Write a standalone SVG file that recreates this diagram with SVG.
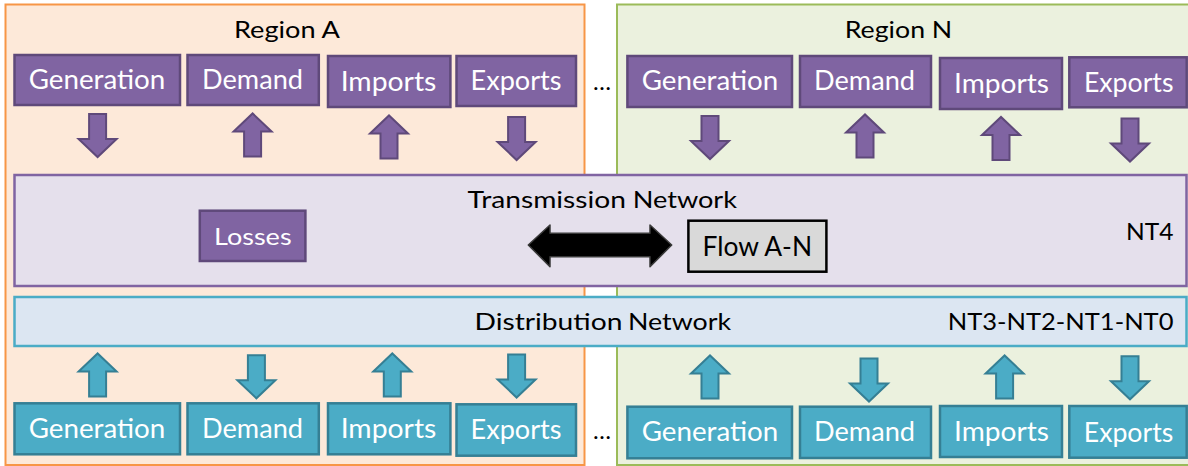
<svg xmlns="http://www.w3.org/2000/svg" xmlns:xlink="http://www.w3.org/1999/xlink" width="1188" height="466" viewBox="0 0 1188 466">
  <style>
    text { font-family: Lato, "Open Sans", "Liberation Sans", sans-serif; text-anchor: middle; }
    .title { font-size: 23px; fill: #000; }
    .lbl { font-size: 27px; fill: #fff; }
    .net { font-size: 24px; fill: #000; }
    .start { text-anchor: start; }
    .pbox { fill: #8064A2; stroke: #5F497A; stroke-width: 2.5; }
    .tbox { fill: #4BACC6; stroke: #357F94; stroke-width: 2.5; }
    .parr { fill: #8064A2; stroke: #5F497A; stroke-width: 2; stroke-linejoin: miter; }
    .tarr { fill: #4BACC6; stroke: #357F94; stroke-width: 2; stroke-linejoin: miter; }
  </style>
  <defs>
    <!-- block arrows, 38 wide and 43 tall, origin at top centre -->
    <path id="dn" d="M-8.5,0 H8.5 V25 H19 L0,43 L-19,25 H-8.5 Z"/>
    <path id="up" d="M-8.5,43 H8.5 V18 H19 L0,0 L-19,18 H-8.5 Z"/>
  </defs>

  <rect width="1188" height="466" fill="#fff"/>

  <!-- regions -->
  <g id="region-a">
    <rect x="5.5" y="4.5" width="579" height="460.5" fill="#FDE9D9" stroke="#F79646" stroke-width="2"/>
    <text class="title" x="287" y="38" textLength="106" lengthAdjust="spacingAndGlyphs">Region A</text>
  </g>
  <g id="region-n">
    <rect x="617" y="4.5" width="580" height="460.5" fill="#EBF1DE" stroke="#9BBB59" stroke-width="2"/>
    <text class="title" x="898.5" y="38" textLength="107.5" lengthAdjust="spacingAndGlyphs">Region N</text>
  </g>

  <!-- networks -->
  <g id="transmission">
    <rect x="14.5" y="175" width="1172" height="111" fill="#E5E0EC" stroke="#8064A2" stroke-width="2.5"/>
    <text class="title start" y="208"><tspan x="467.6" textLength="158.4" lengthAdjust="spacingAndGlyphs">Transmission</tspan> <tspan x="632.7" textLength="104.3" lengthAdjust="spacingAndGlyphs">Network</tspan></text>
    <text class="title" x="1149.8" y="240" textLength="47.5" lengthAdjust="spacingAndGlyphs">NT4</text>
  </g>
  <g id="losses">
    <rect class="pbox" x="199.8" y="210.7" width="105.6" height="50.3"/>
    <text class="lbl" style="font-size:23px" x="252.8" y="245" textLength="77.6" lengthAdjust="spacingAndGlyphs">Losses</text>
  </g>
  <g id="flow">
    <rect x="688.4" y="220.7" width="138" height="51" fill="#D9D9D9" stroke="#000" stroke-width="2.5"/>
    <text class="net" style="font-size:26px" x="757.3" y="256" textLength="109.5" lengthAdjust="spacingAndGlyphs">Flow A-N</text>
  </g>
  <g id="distribution">
    <rect x="14.5" y="297" width="1172" height="49" fill="#DCE6F2" stroke="#4BACC6" stroke-width="2.5"/>
    <text class="net start" y="330"><tspan x="474.5" textLength="147.9" lengthAdjust="spacingAndGlyphs">Distribution</tspan> <tspan x="628" textLength="103" lengthAdjust="spacingAndGlyphs">Network</tspan></text>
    <text class="net" x="1060.6" y="330" textLength="225.8" lengthAdjust="spacingAndGlyphs">NT3-NT2-NT1-NT0</text>
  </g>

  <!-- transmission-level components -->
  <g id="a-top-generation">
    <rect class="pbox" x="14.5" y="55" width="165.5" height="50"/>
    <text class="lbl" x="97" y="89" textLength="136.6" lengthAdjust="spacingAndGlyphs">Generation</text>
  </g>
  <g id="a-top-demand">
    <rect class="pbox" x="187.5" y="55" width="131.3" height="50"/>
    <text class="lbl" x="252.5" y="88.5" textLength="101" lengthAdjust="spacingAndGlyphs">Demand</text>
  </g>
  <g id="a-top-imports">
    <rect class="pbox" x="328" y="56" width="122.4" height="51"/>
    <text class="lbl" x="388.5" y="90.5" textLength="95.7" lengthAdjust="spacingAndGlyphs">Imports</text>
  </g>
  <g id="a-top-exports">
    <rect class="pbox" x="456.5" y="56" width="119.5" height="50"/>
    <text class="lbl" x="516" y="90" textLength="91" lengthAdjust="spacingAndGlyphs">Exports</text>
  </g>
  <g id="n-top-generation">
    <rect class="pbox" x="627.4" y="56" width="164.6" height="51"/>
    <text class="lbl" x="710" y="90" textLength="136.5" lengthAdjust="spacingAndGlyphs">Generation</text>
  </g>
  <g id="n-top-demand">
    <rect class="pbox" x="800" y="56" width="131" height="51"/>
    <text class="lbl" x="864.5" y="90" textLength="101" lengthAdjust="spacingAndGlyphs">Demand</text>
  </g>
  <g id="n-top-imports">
    <rect class="pbox" x="940" y="58" width="122" height="51"/>
    <text class="lbl" x="1001.5" y="92.5" textLength="95" lengthAdjust="spacingAndGlyphs">Imports</text>
  </g>
  <g id="n-top-exports">
    <rect class="pbox" x="1069.3" y="57.3" width="117.4" height="50"/>
    <text class="lbl" x="1128.7" y="92" textLength="89.5" lengthAdjust="spacingAndGlyphs">Exports</text>
  </g>

  <!-- distribution-level components -->
  <g id="a-bot-generation">
    <rect class="tbox" x="14.5" y="403.3" width="165.5" height="51"/>
    <text class="lbl" x="97" y="438.3" textLength="136.6" lengthAdjust="spacingAndGlyphs">Generation</text>
  </g>
  <g id="a-bot-demand">
    <rect class="tbox" x="187.5" y="403.3" width="131.3" height="51"/>
    <text class="lbl" x="252.5" y="438" textLength="101" lengthAdjust="spacingAndGlyphs">Demand</text>
  </g>
  <g id="a-bot-imports">
    <rect class="tbox" x="328" y="403.3" width="122.4" height="51"/>
    <text class="lbl" x="388.5" y="438" textLength="95.7" lengthAdjust="spacingAndGlyphs">Imports</text>
  </g>
  <g id="a-bot-exports">
    <rect class="tbox" x="456.5" y="404.3" width="119.5" height="51.4"/>
    <text class="lbl" x="516" y="438.5" textLength="91" lengthAdjust="spacingAndGlyphs">Exports</text>
  </g>
  <g id="n-bot-generation">
    <rect class="tbox" x="627.4" y="406.7" width="164.6" height="51.6"/>
    <text class="lbl" x="710" y="441" textLength="136.5" lengthAdjust="spacingAndGlyphs">Generation</text>
  </g>
  <g id="n-bot-demand">
    <rect class="tbox" x="800" y="406.7" width="131" height="51.3"/>
    <text class="lbl" x="864.5" y="441" textLength="101" lengthAdjust="spacingAndGlyphs">Demand</text>
  </g>
  <g id="n-bot-imports">
    <rect class="tbox" x="940" y="406" width="122" height="51"/>
    <text class="lbl" x="1001.5" y="441" textLength="95" lengthAdjust="spacingAndGlyphs">Imports</text>
  </g>
  <g id="n-bot-exports">
    <rect class="tbox" x="1069.3" y="406" width="117.4" height="51.7"/>
    <text class="lbl" x="1128.5" y="441.5" textLength="89.5" lengthAdjust="spacingAndGlyphs">Exports</text>
  </g>

  <!-- more regions in between -->
  <text class="title" x="602" y="90" textLength="18" lengthAdjust="spacingAndGlyphs">…</text>
  <text class="title" x="602" y="439" textLength="18" lengthAdjust="spacingAndGlyphs">…</text>

  <!-- connectors -->
  <g id="connectors">
    <use href="#dn" class="parr" x="97.6" y="114"/>
    <use href="#up" class="parr" x="252.6" y="113.5"/>
    <use href="#up" class="parr" x="389" y="115.5"/>
    <use href="#dn" class="parr" x="516.6" y="117"/>
    <use href="#dn" class="parr" x="710" y="116"/>
    <use href="#up" class="parr" x="865" y="114.5"/>
    <use href="#up" class="parr" x="1001" y="117"/>
    <use href="#dn" class="parr" x="1130" y="118.5"/>

    <use href="#up" class="tarr" x="97.6" y="353.5"/>
    <use href="#dn" class="tarr" x="256.4" y="355.3"/>
    <use href="#up" class="tarr" x="392.3" y="353.5"/>
    <use href="#dn" class="tarr" x="516.6" y="354.5"/>
    <use href="#up" class="tarr" x="710" y="355.5"/>
    <use href="#dn" class="tarr" x="869" y="358.5"/>
    <use href="#up" class="tarr" x="1004.6" y="355.5"/>
    <use href="#dn" class="tarr" x="1130" y="356.3"/>

    <path id="flow-arrow" d="M528.3,245 L550,225 V233.3 H650 V225 L671.7,245 L650,266.7 V256.7 H550 V266.7 Z" fill="#000" stroke="#3A3A3A" stroke-width="1.5" stroke-linejoin="round"/>
  </g>
</svg>
